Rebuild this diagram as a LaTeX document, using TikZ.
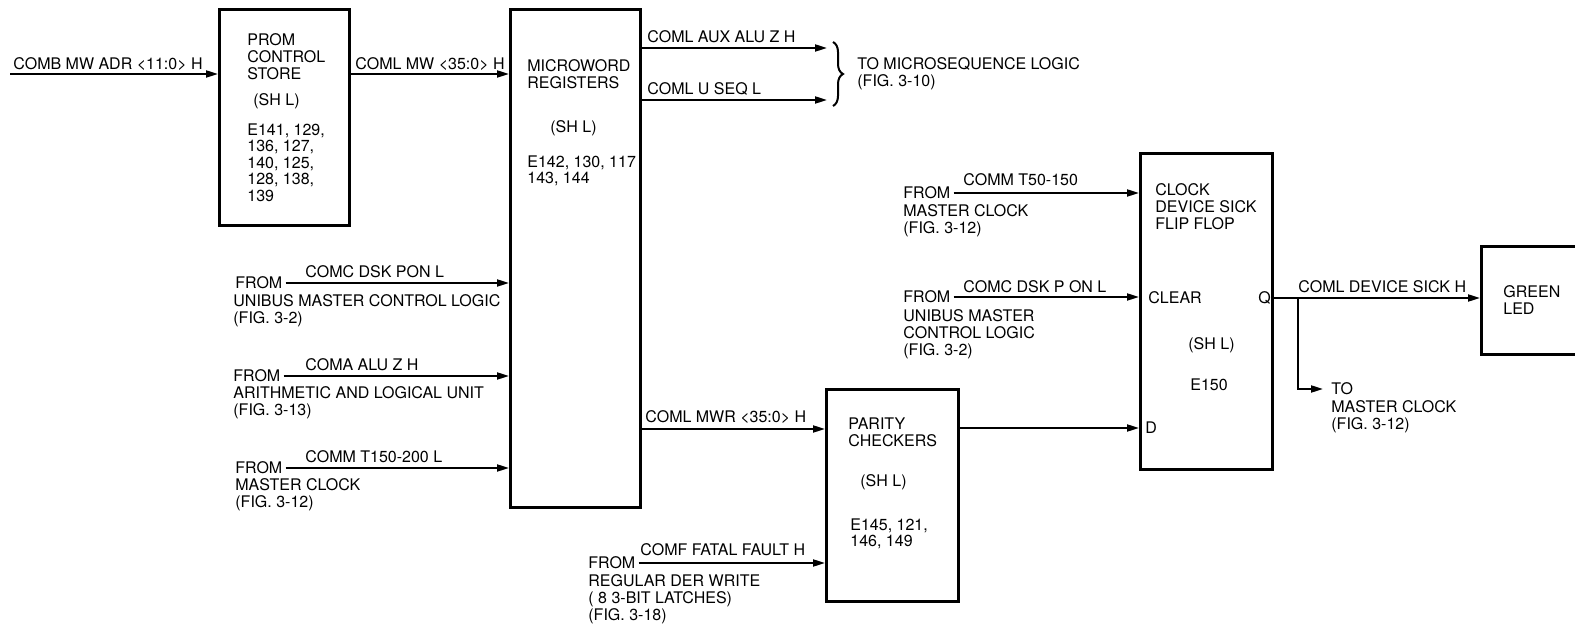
\documentclass[tikz,border=0pt]{standalone}
\usepackage{fontspec}
\setmainfont{TeX Gyre Heros}
\usetikzlibrary{arrows.meta,decorations.pathreplacing}
\tikzset{
  ms text/.style={font=\fontsize{8}{8.6}\selectfont, inner sep=0pt, align=left, anchor=north west},
  ms list/.style={ms text, font=\fontsize{8}{8.3}\selectfont},
  ms from/.style={font=\fontsize{8}{8.6}\selectfont, inner sep=0pt, anchor=west},
  ms box/.style={draw, line width=1.5pt, anchor=north west, inner sep=0pt},
  ms arrow/.style={-{Triangle[length=6pt,width=3.5pt]}, line width=1pt},
  ms brace/.style={decorate, decoration={brace, amplitude=5pt}, line width=1pt}
}

\begin{document}
\begin{tikzpicture}[x=0.5pt, y=-0.5pt]
  \useasboundingbox (0,0) rectangle (1575,625);
  \clip (0,0) rectangle (1575,625);
  % blocks
  \node[ms box, minimum width=65pt, minimum height=108pt] (prom) at (218,8) {};
  \node[ms box, minimum width=65pt, minimum height=249pt] (mw) at (509,8) {};
  \node[ms box, minimum width=66pt, minimum height=106pt] (par) at (825,388) {};
  \node[ms box, minimum width=66pt, minimum height=158pt] (ff) at (1139,152) {};
  \node[ms box, minimum width=60pt, minimum height=54pt] (led) at (1480,245) {};
  % block texts
  \node[ms text] (promname) at (247,33) {PROM\\CONTROL\\STORE};
  \node[ms text] (promsh) at (253,93) {(SH L)};
  \node[ms list] (promics) at (247,123) {E141, 129,\\136, 127,\\140, 125,\\128, 138,\\139};
  \node[ms text] (mwname) at (527,59) {MICROWORD\\REGISTERS};
  \node[ms text] (mwsh) at (550,120) {(SH L)};
  \node[ms list] (mwics) at (527,155) {E142, 130, 117\\143, 144};
  \node[ms text] (parname) at (848,417) {PARITY\\CHECKERS};
  \node[ms text] (parsh) at (860,474) {(SH L)};
  \node[ms list] (parics) at (850,518) {E145, 121,\\146, 149};
  \node[ms text] (ffname) at (1155,183) {CLOCK\\DEVICE SICK\\FLIP FLOP};
  \node[ms from] (clr) at (1148,298) {CLEAR};
  \node[ms from] (qout) at (1258,298) {Q};
  \node[ms text] (ffsh) at (1188,337) {(SH L)};
  \node[ms text] (ffic) at (1190,378) {E150};
  \node[ms from] (dlbl) at (1145,428) {D};
  \node[ms text] (ledname) at (1503,285) {GREEN\\LED};
  % address into the PROM and on to the registers
  \coordinate (adr) at (10,74);
  \node[ms text] (adrlbl) at (13,57) {COMB MW ADR <11:0> H};
  \draw[ms arrow] (adr) -- (adr -| prom.west);
  \node[ms text] (mwlbl) at (355,57) {COML MW <35:0> H};
  \draw[ms arrow] (prom.east |- adr) -- (mw.west |- adr);
  % to the microsequence logic
  \coordinate (seqa) at (827,48);
  \coordinate (seqb) at (827,100);
  \node[ms text] (seqalbl) at (647,30) {COML AUX ALU Z H};
  \node[ms text] (seqblbl) at (647,82) {COML U SEQ L};
  \draw[ms arrow] (mw.east |- seqa) -- (seqa);
  \draw[ms arrow] (mw.east |- seqb) -- (seqb);
  \coordinate (bracetop) at (833,42);
  \coordinate (bracebot) at (833,106);
  \draw[ms brace] (bracetop) -- (bracebot);
  \node[ms text] (seqdst) at (857,57) {TO MICROSEQUENCE LOGIC\\(FIG. 3-10)};
  % inputs to the registers
  \node[ms from] (fromumc) at (235,283) {FROM};
  \node[ms text] (umclbl) at (305,265) {COMC DSK PON L};
  \node[ms text] (umcsrc) at (233,294) {UNIBUS MASTER CONTROL LOGIC\\(FIG. 3-2)};
  \draw[ms arrow, shorten <=1.5pt] (fromumc.east) -- (fromumc.east -| mw.west);
  \node[ms from] (fromalu) at (233,376) {FROM};
  \node[ms text] (alulbl) at (305,358) {COMA ALU Z H};
  \node[ms text] (alusrc) at (233,386) {ARITHMETIC AND LOGICAL UNIT\\(FIG. 3-13)};
  \draw[ms arrow, shorten <=1.5pt] (fromalu.east) -- (fromalu.east -| mw.west);
  \node[ms from] (fromclka) at (235,468) {FROM};
  \node[ms text] (clkalbl) at (305,450) {COMM T150-200 L};
  \node[ms text] (clkasrc) at (235,478) {MASTER CLOCK\\(FIG. 3-12)};
  \draw[ms arrow, shorten <=1.5pt] (fromclka.east) -- (fromclka.east -| mw.west);
  % parity checkers
  \coordinate (mwr) at (700,429);
  \node[ms text] (mwrlbl) at (645,410) {COML MWR <35:0> H};
  \draw[ms arrow] (mw.east |- mwr) -- (par.west |- mwr);
  \node[ms from] (fromrdw) at (588,563) {FROM};
  \node[ms text] (rdwlbl) at (640,543) {COMF FATAL FAULT H};
  \node[ms text] (rdwsrc) at (588,574) {REGULAR DER WRITE\\( 8 3-BIT LATCHES)\\(FIG. 3-18)};
  \draw[ms arrow, shorten <=1.5pt] (fromrdw.east) -- (fromrdw.east -| par.west);
  \draw[ms arrow] (par.east |- dlbl) -- (ff.west |- dlbl);
  % flip flop inputs
  \node[ms from] (fromclkb) at (903,193) {FROM};
  \node[ms text] (clkblbl) at (963,173) {COMM T50-150};
  \node[ms text] (clkbsrc) at (903,204) {MASTER CLOCK\\(FIG. 3-12)};
  \draw[ms arrow, shorten <=1.5pt] (fromclkb.east) -- (fromclkb.east -| ff.west);
  \node[ms from] (fromumcb) at (903,297) {FROM};
  \node[ms text] (umcblbl) at (963,280) {COMC DSK P ON L};
  \node[ms text] (umcbsrc) at (903,309) {UNIBUS MASTER\\CONTROL LOGIC\\(FIG. 3-2)};
  \draw[ms arrow, shorten <=1.5pt] (fromumcb.east) -- (fromumcb.east -| ff.west);
  % device sick output
  \node[ms text] (sicklbl) at (1298,280) {COML DEVICE SICK H};
  \draw[ms arrow] (ff.east |- qout) -- (led.west |- qout);
  \coordinate (tap) at (1298,298);
  \node[ms from] (tomc) at (1331,389) {TO};
  \node[ms text] (tomcdst) at (1331,400) {MASTER CLOCK\\(FIG. 3-12)};
  \draw[ms arrow, shorten >=4pt] (tap) |- (tomc.west);
\end{tikzpicture}
\end{document}
